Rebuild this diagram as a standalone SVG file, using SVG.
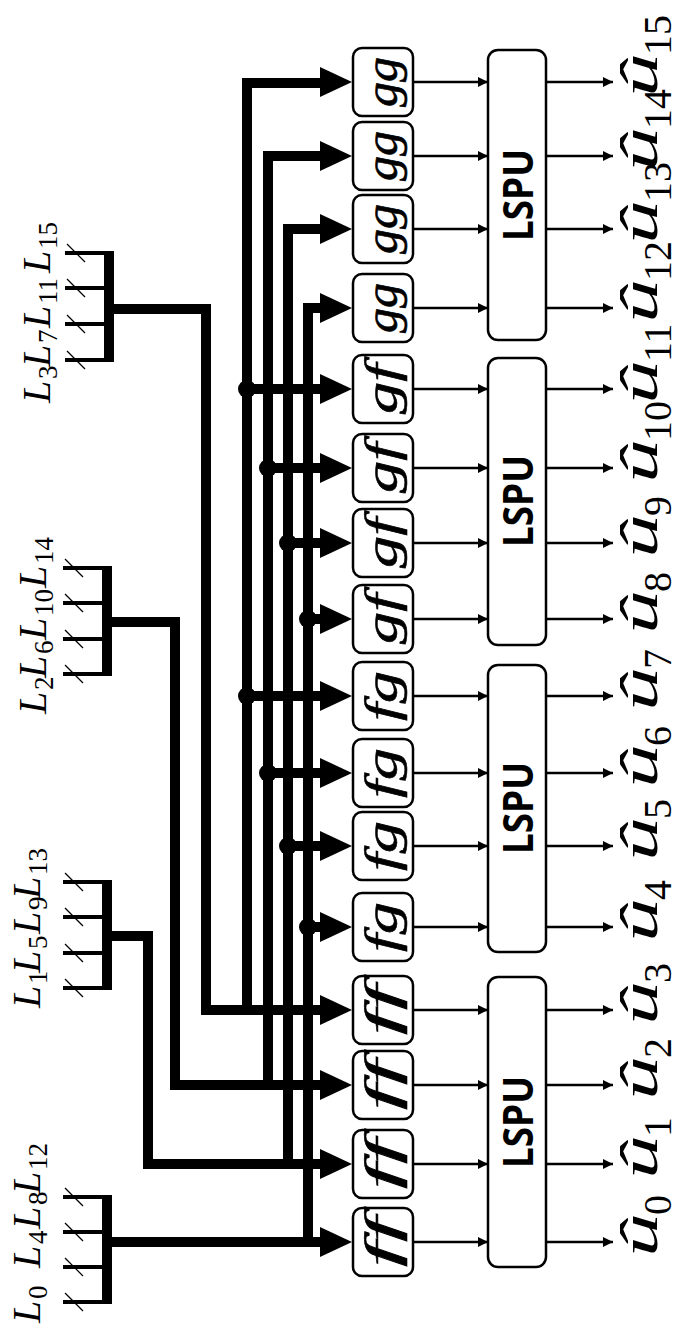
<svg xmlns="http://www.w3.org/2000/svg" width="678" height="1330" viewBox="0 0 678 1330">
<style>
.bus{fill:none;stroke:#000;stroke-width:10;stroke-linecap:square;stroke-linejoin:miter}
.tick{stroke:#000;stroke-width:4}
.bar{stroke:#000;stroke-width:10}
.slash{stroke:#000;stroke-width:1.2}
.thin{stroke:#000;stroke-width:2.5;marker-end:url(#ar)}
.pe{fill:#fff;stroke:#000;stroke-width:2.5}
.pl{font-family:"Liberation Serif",serif;font-style:italic;font-size:46px;text-anchor:middle;stroke:#000;stroke-width:0.6}
.lt{font-family:"Open Sans",sans-serif;font-weight:bold;font-size:42px;text-anchor:middle}
.L{font-family:"Liberation Serif",serif;font-style:italic;font-size:40px}
.Ls{font-family:"Liberation Serif",serif;font-size:27px}
.u{font-family:"Liberation Serif",serif;font-style:italic;font-size:52px}
.us{font-family:"Liberation Serif",serif;font-size:40px}
</style>
<defs>
<marker id="ar" markerUnits="userSpaceOnUse" markerWidth="12" markerHeight="12" refX="10" refY="5" orient="auto"><path d="M0,0 L10,5 L0,10 z" fill="#000"/></marker>
<polygon id="ta" points="0,-15 32,0 0,15" fill="#000"/>
</defs>
<rect width="678" height="1330" fill="#fff"/>

<!-- LLR input groups -->
<g id="lgroupA">
<line class="tick" x1="63" y1="1197" x2="107" y2="1197"/><line class="tick" x1="63" y1="1232" x2="107" y2="1232"/><line class="tick" x1="63" y1="1267" x2="107" y2="1267"/><line class="tick" x1="63" y1="1302" x2="107" y2="1302"/>
<line class="bar" x1="107" y1="1195" x2="107" y2="1304"/>
<line class="slash" x1="65" y1="1188" x2="83" y2="1206"/><line class="slash" x1="65" y1="1223" x2="83" y2="1241"/><line class="slash" x1="65" y1="1258" x2="83" y2="1276"/><line class="slash" x1="65" y1="1293" x2="83" y2="1311"/>
<text class="L" transform="translate(40,1323) rotate(-90)">L</text><text class="Ls" transform="translate(47,1299) rotate(-90)">0</text>
<text class="L" transform="translate(40,1268) rotate(-90)">L</text><text class="Ls" transform="translate(47,1244) rotate(-90)">4</text>
<text class="L" transform="translate(40,1229) rotate(-90)">L</text><text class="Ls" transform="translate(47,1205) rotate(-90)">8</text>
<text class="L" transform="translate(40,1194) rotate(-90)">L</text><text class="Ls" transform="translate(47,1170) rotate(-90)">12</text>
</g>
<g id="lgroupB">
<line class="tick" x1="63" y1="882" x2="107" y2="882"/><line class="tick" x1="63" y1="917" x2="107" y2="917"/><line class="tick" x1="63" y1="953" x2="107" y2="953"/><line class="tick" x1="63" y1="988" x2="107" y2="988"/>
<line class="bar" x1="107" y1="880" x2="107" y2="990"/>
<line class="slash" x1="65" y1="873" x2="83" y2="891"/><line class="slash" x1="65" y1="908" x2="83" y2="926"/><line class="slash" x1="65" y1="944" x2="83" y2="962"/><line class="slash" x1="65" y1="979" x2="83" y2="997"/>
<text class="L" transform="translate(40,1008) rotate(-90)">L</text><text class="Ls" transform="translate(47,984) rotate(-90)">1</text>
<text class="L" transform="translate(40,973) rotate(-90)">L</text><text class="Ls" transform="translate(47,949) rotate(-90)">5</text>
<text class="L" transform="translate(40,934) rotate(-90)">L</text><text class="Ls" transform="translate(47,910) rotate(-90)">9</text>
<text class="L" transform="translate(40,899) rotate(-90)">L</text><text class="Ls" transform="translate(47,875) rotate(-90)">13</text>
</g>
<g id="lgroupC">
<line class="tick" x1="63" y1="568" x2="107" y2="568"/><line class="tick" x1="63" y1="603" x2="107" y2="603"/><line class="tick" x1="63" y1="639" x2="107" y2="639"/><line class="tick" x1="63" y1="674" x2="107" y2="674"/>
<line class="bar" x1="107" y1="566" x2="107" y2="676"/>
<line class="slash" x1="65" y1="559" x2="83" y2="577"/><line class="slash" x1="65" y1="594" x2="83" y2="612"/><line class="slash" x1="65" y1="630" x2="83" y2="648"/><line class="slash" x1="65" y1="665" x2="83" y2="683"/>
<text class="L" transform="translate(46,714) rotate(-90)">L</text><text class="Ls" transform="translate(53,690) rotate(-90)">2</text>
<text class="L" transform="translate(46,678) rotate(-90)">L</text><text class="Ls" transform="translate(53,654) rotate(-90)">6</text>
<text class="L" transform="translate(46,640) rotate(-90)">L</text><text class="Ls" transform="translate(53,616) rotate(-90)">10</text>
<text class="L" transform="translate(46,588) rotate(-90)">L</text><text class="Ls" transform="translate(53,564) rotate(-90)">14</text>
</g>
<g id="lgroupD">
<line class="tick" x1="65" y1="253" x2="109" y2="253"/><line class="tick" x1="65" y1="288" x2="109" y2="288"/><line class="tick" x1="65" y1="324" x2="109" y2="324"/><line class="tick" x1="65" y1="360" x2="109" y2="360"/>
<line class="bar" x1="109" y1="251" x2="109" y2="362"/>
<line class="slash" x1="67" y1="244" x2="85" y2="262"/><line class="slash" x1="67" y1="279" x2="85" y2="297"/><line class="slash" x1="67" y1="315" x2="85" y2="333"/><line class="slash" x1="67" y1="351" x2="85" y2="369"/>
<text class="L" transform="translate(50,403) rotate(-90)">L</text><text class="Ls" transform="translate(57,379) rotate(-90)">3</text>
<text class="L" transform="translate(50,367) rotate(-90)">L</text><text class="Ls" transform="translate(57,343) rotate(-90)">7</text>
<text class="L" transform="translate(50,328) rotate(-90)">L</text><text class="Ls" transform="translate(57,304) rotate(-90)">11</text>
<text class="L" transform="translate(50,273) rotate(-90)">L</text><text class="Ls" transform="translate(57,249) rotate(-90)">15</text>
</g>

<!-- processing elements -->
<g id="pe15"><rect class="pe" x="353" y="48" width="60" height="68" rx="9"/><text class="pl" transform="translate(397,82) rotate(-90)" textLength="50" lengthAdjust="spacingAndGlyphs">gg</text></g>
<g id="pe14"><rect class="pe" x="353" y="122" width="60" height="68" rx="9"/><text class="pl" transform="translate(397,156) rotate(-90)" textLength="50" lengthAdjust="spacingAndGlyphs">gg</text></g>
<g id="pe13"><rect class="pe" x="353" y="195" width="60" height="68" rx="9"/><text class="pl" transform="translate(397,229) rotate(-90)" textLength="50" lengthAdjust="spacingAndGlyphs">gg</text></g>
<g id="pe12"><rect class="pe" x="353" y="274" width="60" height="68" rx="9"/><text class="pl" transform="translate(397,308) rotate(-90)" textLength="50" lengthAdjust="spacingAndGlyphs">gg</text></g>
<g id="pe11"><rect class="pe" x="353" y="355" width="60" height="68" rx="9"/><text class="pl" transform="translate(397,389) rotate(-90)" textLength="50" lengthAdjust="spacingAndGlyphs">gf</text></g>
<g id="pe10"><rect class="pe" x="353" y="434" width="60" height="68" rx="9"/><text class="pl" transform="translate(397,468) rotate(-90)" textLength="50" lengthAdjust="spacingAndGlyphs">gf</text></g>
<g id="pe9"><rect class="pe" x="353" y="509" width="60" height="68" rx="9"/><text class="pl" transform="translate(397,543) rotate(-90)" textLength="50" lengthAdjust="spacingAndGlyphs">gf</text></g>
<g id="pe8"><rect class="pe" x="353" y="585" width="60" height="68" rx="9"/><text class="pl" transform="translate(397,619) rotate(-90)" textLength="50" lengthAdjust="spacingAndGlyphs">gf</text></g>
<g id="pe7"><rect class="pe" x="353" y="662" width="60" height="68" rx="9"/><text class="pl" transform="translate(397,696) rotate(-90)" textLength="50" lengthAdjust="spacingAndGlyphs">fg</text></g>
<g id="pe6"><rect class="pe" x="353" y="739" width="60" height="68" rx="9"/><text class="pl" transform="translate(397,773) rotate(-90)" textLength="50" lengthAdjust="spacingAndGlyphs">fg</text></g>
<g id="pe5"><rect class="pe" x="353" y="812" width="60" height="68" rx="9"/><text class="pl" transform="translate(397,846) rotate(-90)" textLength="50" lengthAdjust="spacingAndGlyphs">fg</text></g>
<g id="pe4"><rect class="pe" x="353" y="893" width="60" height="68" rx="9"/><text class="pl" transform="translate(397,927) rotate(-90)" textLength="50" lengthAdjust="spacingAndGlyphs">fg</text></g>
<g id="pe3"><rect class="pe" x="353" y="976" width="60" height="68" rx="9"/><text class="pl" transform="translate(397,1010) rotate(-90)" textLength="50" lengthAdjust="spacingAndGlyphs">ff</text></g>
<g id="pe2"><rect class="pe" x="353" y="1051" width="60" height="68" rx="9"/><text class="pl" transform="translate(397,1085) rotate(-90)" textLength="50" lengthAdjust="spacingAndGlyphs">ff</text></g>
<g id="pe1"><rect class="pe" x="353" y="1130" width="60" height="68" rx="9"/><text class="pl" transform="translate(397,1164) rotate(-90)" textLength="50" lengthAdjust="spacingAndGlyphs">ff</text></g>
<g id="pe0"><rect class="pe" x="353" y="1208" width="60" height="68" rx="9"/><text class="pl" transform="translate(397,1242) rotate(-90)" textLength="50" lengthAdjust="spacingAndGlyphs">ff</text></g>

<!-- LSPU blocks -->
<g id="lspu3"><rect class="pe" x="488" y="50" width="58" height="290" rx="10"/><text class="lt" transform="translate(533,195) rotate(-90)" textLength="92" lengthAdjust="spacingAndGlyphs">LSPU</text></g>
<g id="lspu2"><rect class="pe" x="488" y="358" width="58" height="287" rx="10"/><text class="lt" transform="translate(533,501) rotate(-90)" textLength="92" lengthAdjust="spacingAndGlyphs">LSPU</text></g>
<g id="lspu1"><rect class="pe" x="488" y="665" width="58" height="287" rx="10"/><text class="lt" transform="translate(533,808) rotate(-90)" textLength="92" lengthAdjust="spacingAndGlyphs">LSPU</text></g>
<g id="lspu0"><rect class="pe" x="488" y="977" width="58" height="290" rx="10"/><text class="lt" transform="translate(533,1122) rotate(-90)" textLength="92" lengthAdjust="spacingAndGlyphs">LSPU</text></g>

<!-- output labels -->
<g id="outputs">
<text class="u" transform="translate(657,97) rotate(-90)" textLength="44" lengthAdjust="spacingAndGlyphs">û</text><text class="us" transform="translate(671,55) rotate(-90)">15</text>
<text class="u" transform="translate(657,171) rotate(-90)" textLength="44" lengthAdjust="spacingAndGlyphs">û</text><text class="us" transform="translate(671,129) rotate(-90)">14</text>
<text class="u" transform="translate(657,244) rotate(-90)" textLength="44" lengthAdjust="spacingAndGlyphs">û</text><text class="us" transform="translate(671,202) rotate(-90)">13</text>
<text class="u" transform="translate(657,323) rotate(-90)" textLength="44" lengthAdjust="spacingAndGlyphs">û</text><text class="us" transform="translate(671,281) rotate(-90)">12</text>
<text class="u" transform="translate(657,404) rotate(-90)" textLength="44" lengthAdjust="spacingAndGlyphs">û</text><text class="us" transform="translate(671,362) rotate(-90)">11</text>
<text class="u" transform="translate(657,483) rotate(-90)" textLength="44" lengthAdjust="spacingAndGlyphs">û</text><text class="us" transform="translate(671,441) rotate(-90)">10</text>
<text class="u" transform="translate(657,558) rotate(-90)" textLength="44" lengthAdjust="spacingAndGlyphs">û</text><text class="us" transform="translate(671,516) rotate(-90)">9</text>
<text class="u" transform="translate(657,634) rotate(-90)" textLength="44" lengthAdjust="spacingAndGlyphs">û</text><text class="us" transform="translate(671,592) rotate(-90)">8</text>
<text class="u" transform="translate(657,711) rotate(-90)" textLength="44" lengthAdjust="spacingAndGlyphs">û</text><text class="us" transform="translate(671,669) rotate(-90)">7</text>
<text class="u" transform="translate(657,788) rotate(-90)" textLength="44" lengthAdjust="spacingAndGlyphs">û</text><text class="us" transform="translate(671,746) rotate(-90)">6</text>
<text class="u" transform="translate(657,861) rotate(-90)" textLength="44" lengthAdjust="spacingAndGlyphs">û</text><text class="us" transform="translate(671,819) rotate(-90)">5</text>
<text class="u" transform="translate(657,942) rotate(-90)" textLength="44" lengthAdjust="spacingAndGlyphs">û</text><text class="us" transform="translate(671,900) rotate(-90)">4</text>
<text class="u" transform="translate(657,1025) rotate(-90)" textLength="44" lengthAdjust="spacingAndGlyphs">û</text><text class="us" transform="translate(671,983) rotate(-90)">3</text>
<text class="u" transform="translate(657,1100) rotate(-90)" textLength="44" lengthAdjust="spacingAndGlyphs">û</text><text class="us" transform="translate(671,1058) rotate(-90)">2</text>
<text class="u" transform="translate(657,1179) rotate(-90)" textLength="44" lengthAdjust="spacingAndGlyphs">û</text><text class="us" transform="translate(671,1137) rotate(-90)">1</text>
<text class="u" transform="translate(657,1257) rotate(-90)" textLength="44" lengthAdjust="spacingAndGlyphs">û</text><text class="us" transform="translate(671,1215) rotate(-90)">0</text>
</g>

<!-- connectors -->
<g id="connectors">
<path class="bus" d="M108 1242 H322 M308 1242 V308 H322"/>
<path class="bus" d="M108 936 H148 V1164 H322 M288 1164 V229 H322"/>
<path class="bus" d="M108 622 H175 V1085 H322 M268 1085 V156 H322"/>
<path class="bus" d="M110 309 H206 V1010 H322 M247 1010 V83 H322"/>
<path class="bus" d="M308 619 H322 M308 927 H322 M288 543 H322 M288 846 H322 M268 468 H322 M268 773 H322 M247 389 H322 M247 696 H322"/>
<circle cx="308" cy="619" r="9"/><circle cx="308" cy="927" r="9"/>
<circle cx="288" cy="543" r="9"/><circle cx="288" cy="846" r="9"/>
<circle cx="268" cy="468" r="9"/><circle cx="268" cy="773" r="9"/>
<circle cx="247" cy="389" r="9"/><circle cx="247" cy="696" r="9"/>
<use href="#ta" x="320" y="82"/><use href="#ta" x="320" y="156"/><use href="#ta" x="320" y="229"/><use href="#ta" x="320" y="308"/>
<use href="#ta" x="320" y="389"/><use href="#ta" x="320" y="468"/><use href="#ta" x="320" y="543"/><use href="#ta" x="320" y="619"/>
<use href="#ta" x="320" y="696"/><use href="#ta" x="320" y="773"/><use href="#ta" x="320" y="846"/><use href="#ta" x="320" y="927"/>
<use href="#ta" x="320" y="1010"/><use href="#ta" x="320" y="1085"/><use href="#ta" x="320" y="1164"/><use href="#ta" x="320" y="1242"/>
<line class="thin" x1="413" y1="82" x2="488" y2="82"/><line class="thin" x1="413" y1="156" x2="488" y2="156"/><line class="thin" x1="413" y1="229" x2="488" y2="229"/><line class="thin" x1="413" y1="308" x2="488" y2="308"/>
<line class="thin" x1="413" y1="389" x2="488" y2="389"/><line class="thin" x1="413" y1="468" x2="488" y2="468"/><line class="thin" x1="413" y1="543" x2="488" y2="543"/><line class="thin" x1="413" y1="619" x2="488" y2="619"/>
<line class="thin" x1="413" y1="696" x2="488" y2="696"/><line class="thin" x1="413" y1="773" x2="488" y2="773"/><line class="thin" x1="413" y1="846" x2="488" y2="846"/><line class="thin" x1="413" y1="927" x2="488" y2="927"/>
<line class="thin" x1="413" y1="1010" x2="488" y2="1010"/><line class="thin" x1="413" y1="1085" x2="488" y2="1085"/><line class="thin" x1="413" y1="1164" x2="488" y2="1164"/><line class="thin" x1="413" y1="1242" x2="488" y2="1242"/>
<line class="thin" x1="546" y1="82" x2="613" y2="82"/><line class="thin" x1="546" y1="156" x2="613" y2="156"/><line class="thin" x1="546" y1="229" x2="613" y2="229"/><line class="thin" x1="546" y1="308" x2="613" y2="308"/>
<line class="thin" x1="546" y1="389" x2="613" y2="389"/><line class="thin" x1="546" y1="468" x2="613" y2="468"/><line class="thin" x1="546" y1="543" x2="613" y2="543"/><line class="thin" x1="546" y1="619" x2="613" y2="619"/>
<line class="thin" x1="546" y1="696" x2="613" y2="696"/><line class="thin" x1="546" y1="773" x2="613" y2="773"/><line class="thin" x1="546" y1="846" x2="613" y2="846"/><line class="thin" x1="546" y1="927" x2="613" y2="927"/>
<line class="thin" x1="546" y1="1010" x2="613" y2="1010"/><line class="thin" x1="546" y1="1085" x2="613" y2="1085"/><line class="thin" x1="546" y1="1164" x2="613" y2="1164"/><line class="thin" x1="546" y1="1242" x2="613" y2="1242"/>
</g>
</svg>
